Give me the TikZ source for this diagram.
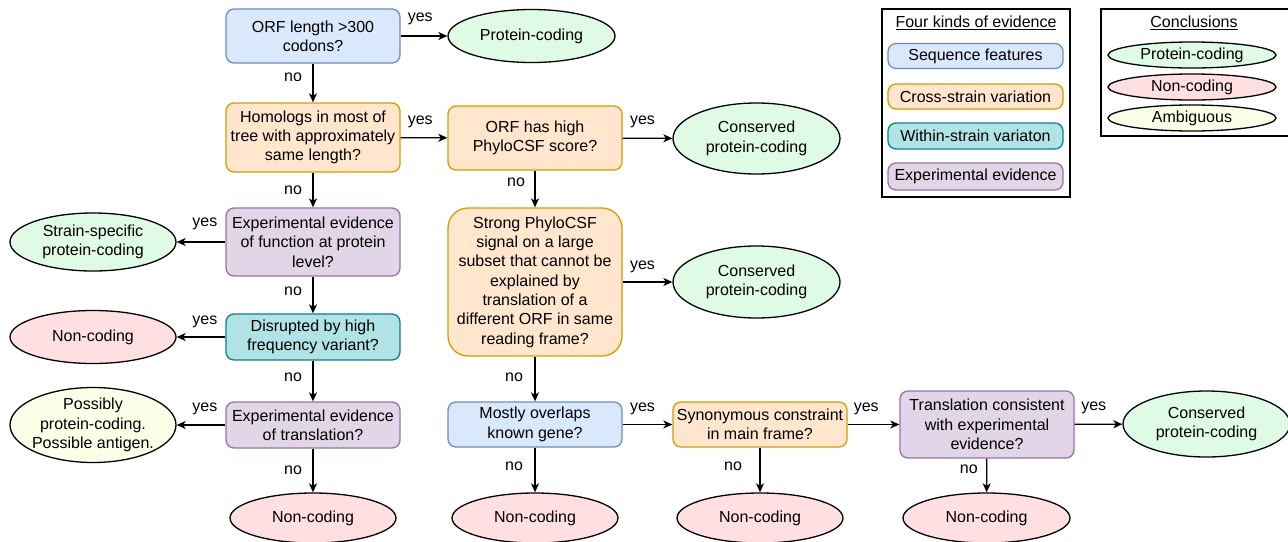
\documentclass[tikz,border=0pt]{standalone}
\usepackage{fontspec}
\setmainfont{Liberation Sans}
\usetikzlibrary{shapes.geometric,arrows.meta}
\definecolor{bfill}{HTML}{DAE8FC}\definecolor{bline}{HTML}{6C8EBF}
\definecolor{ofill}{HTML}{FFE6CC}\definecolor{oline}{HTML}{D79B00}
\definecolor{tfill}{HTML}{B0E3E6}\definecolor{tline}{HTML}{0E8088}
\definecolor{pfill}{HTML}{E1D5E7}\definecolor{pline}{HTML}{9673A6}
\definecolor{gfill}{HTML}{DFFBE5}
\definecolor{rfill}{HTML}{FFDFE2}
\definecolor{yfill}{HTML}{FBFFE8}
\begin{document}
\begin{tikzpicture}[x=1pt,y=-1pt,
  font=\fontsize{16}{19.3}\selectfont,
  qbox/.style={rectangle, rounded corners=8pt, line width=1.3pt, minimum width=174pt, align=center, inner sep=2pt},
  seqq/.style={qbox, draw=bline, fill=bfill},
  crossq/.style={qbox, draw=oline, fill=ofill},
  withinq/.style={qbox, draw=tline, fill=tfill},
  expq/.style={qbox, draw=pline, fill=pfill},
  concl/.style={ellipse, draw=black, line width=1.3pt, minimum width=166pt, align=center, inner sep=0pt},
  pc/.style={concl, fill=gfill},
  nc/.style={concl, fill=rfill},
  amb/.style={concl, fill=yfill},
  arr/.style={line width=1.3pt, -{Stealth[length=9pt,width=8pt,inset=2.5pt]}},
  lab/.style={inner sep=0pt},
  legbox/.style={draw=black, line width=1.2pt}
]
\useasboundingbox (0,0) rectangle (1288,541);

% left column
\node[seqq, minimum height=54pt] (orf) at (313,36) {ORF length >300\\codons?};
\node[pc, minimum height=53pt, minimum width=167pt] (pc1) at (531.5,36) {Protein-coding};
\node[crossq, minimum height=69pt] (hom) at (313,137.5) {Homologs in most of\\tree with approximately\\same length?};
\node[expq, minimum height=68pt] (expf) at (313,242) {Experimental evidence\\of function at protein\\level?};
\node[pc, minimum height=58pt] (ss) at (93,242) {Strain-specific\\protein-coding};
\node[withinq, minimum height=46pt] (dis) at (313,337) {Disrupted by high\\frequency variant?};
\node[nc, minimum height=53pt] (nc0) at (93,337) {Non-coding};
\node[expq, minimum height=46pt] (expt) at (313,425) {Experimental evidence\\of translation?};
\node[amb, minimum height=75pt, label={[align=center, inner sep=0pt]center:Possibly\\protein-coding.\\Possible antigen.}] (poss) at (93,425) {};
\node[nc, minimum height=50pt] (nc1) at (313,518) {Non-coding};

% middle column
\node[crossq, minimum height=64pt] (phy) at (535,138) {ORF has high\\PhyloCSF score?};
\node[pc, minimum height=71pt, minimum width=167pt] (cpc1) at (756.5,138.5) {Conserved\\protein-coding};
\node[crossq, minimum height=148pt, rounded corners=20pt] (strong) at (535,282) {Strong PhyloCSF\\signal on a large\\subset that cannot be\\explained by\\translation of a\\different ORF in same\\reading frame?};
\node[pc, minimum height=72pt, minimum width=167pt] (cpc2) at (756.5,282) {Conserved\\protein-coding};
\node[seqq, minimum height=45pt] (most) at (535,424.5) {Mostly overlaps\\known gene?};
\node[nc, minimum height=50pt] (nc2) at (535,518) {Non-coding};
\node[crossq, minimum height=45pt] (syn) at (760,424.5) {Synonymous constraint\\in main frame?};
\node[nc, minimum height=50pt] (nc3) at (760,518) {Non-coding};
\node[expq, minimum height=67pt] (tcon) at (987,424.5) {Translation consistent\\with experimental\\evidence?};
\node[nc, minimum height=50pt, minimum width=167pt] (nc4) at (986.5,518) {Non-coding};
\node[pc, minimum height=66pt, minimum width=167pt] (cpc3) at (1206.5,424) {Conserved\\protein-coding};

% connectors
\draw[arr] (orf) -- node[lab, pos=0.42, yshift=17pt] {yes} (pc1);
\draw[arr] (orf) -- node[lab, pos=0.35, xshift=-20pt] {no} (hom);
\draw[arr] (hom) -- node[lab, pos=0.42, yshift=16pt] {yes} (phy);
\draw[arr] (phy) -- node[lab, pos=0.4, yshift=16pt] {yes} (cpc1);
\draw[arr] (phy) -- node[lab, pos=0.32, xshift=-19pt] {no} (strong);
\draw[arr] (hom) -- node[lab, pos=0.5, xshift=-20pt] {no} (expf);
\draw[arr] (expf) -- node[lab, pos=0.42, yshift=18pt] {yes} (ss);
\draw[arr] (expf) -- node[lab, pos=0.4, xshift=-20pt] {no} (dis);
\draw[arr] (dis) -- node[lab, pos=0.42, yshift=15pt] {yes} (nc0);
\draw[arr] (dis) -- node[lab, pos=0.4, xshift=-20pt] {no} (expt);
\draw[arr] (expt) -- node[lab, pos=0.42, yshift=16pt] {yes} (poss);
\draw[arr] (expt) -- node[lab, pos=0.5, xshift=-20pt] {no} (nc1);
\draw[arr] (strong) -- node[lab, pos=0.4, yshift=15pt] {yes} (cpc2);
\draw[arr] (strong) -- node[lab, pos=0.46, xshift=-21pt] {no} (most);
\draw[arr] (most) -- node[lab, pos=0.4, yshift=16pt] {yes} (syn);
\draw[arr] (most) -- node[lab, pos=0.41, xshift=-21pt] {no} (nc2);
\draw[arr] (syn) -- node[lab, pos=0.36, yshift=16pt] {yes} (tcon);
\draw[arr] (syn) -- node[lab, pos=0.41, xshift=-27pt] {no} (nc3);
\draw[arr] (tcon) -- node[lab, pos=0.4, yshift=16pt] {yes} (cpc3);
\draw[arr] (tcon) -- node[lab, pos=0.31, xshift=-18pt] {no} (nc4);

% legend: evidence
\node[legbox, minimum width=188pt, minimum height=188pt, inner sep=0pt] (leg1) at (976,103) {};
\node[lab] (leg1t) at (976,23) {\underline{Four kinds of evidence}};
\node[seqq, minimum width=175pt, minimum height=25pt, inner sep=0pt] (ls) at (975.5,56) {Sequence features};
\node[crossq, minimum width=175pt, minimum height=25pt, inner sep=0pt] (lc) at (975.5,96.5) {Cross-strain variation};
\node[withinq, minimum width=175pt, minimum height=26pt, inner sep=0pt] (lw) at (975.5,136) {Within-strain variaton};
\node[expq, minimum width=175pt, minimum height=27pt, inner sep=0pt] (le) at (975.5,176.5) {Experimental evidence};

% legend: conclusions
\node[legbox, minimum width=188pt, minimum height=127pt, inner sep=0pt] (leg2) at (1195,72.5) {};
\node[lab] (leg2t) at (1194,23) {\underline{Conclusions}};
\node[pc, minimum width=168pt, minimum height=26pt] (lpc) at (1192,55) {Protein-coding};
\node[nc, minimum width=168pt, minimum height=26pt] (lnc) at (1192,87) {Non-coding};
\node[amb, minimum width=168pt, minimum height=26pt] (lam) at (1192,118) {Ambiguous};
\end{tikzpicture}
\end{document}
